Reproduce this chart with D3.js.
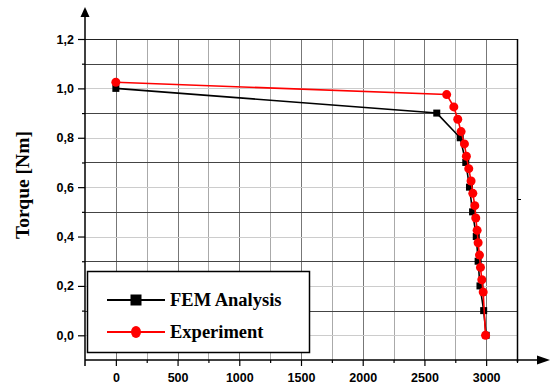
<!DOCTYPE html>
<html>
<head>
<meta charset="utf-8">
<script src="https://cdn.jsdelivr.net/npm/d3@7"></script>
<style>
  body { margin: 0; background: #fff; }
  svg { display: block; }
</style>
</head>
<body>
<div id="mainDiv"></div>
<script>
'use strict';

// speed [rpm] vs torque [Nm]
var femSpeed  = [0, 2600, 2790, 2835, 2865, 2890, 2920, 2935, 2950, 2980, 3000];
var femTorque = [1.0, 0.9, 0.8, 0.7, 0.6, 0.5, 0.4, 0.3, 0.2, 0.1, 0.0];

var expSpeed  = [0, 2680, 2738, 2770, 2797, 2824, 2840, 2859, 2878, 2892, 2908, 2916, 2927, 2935, 2946, 2954, 2965, 2976, 2995];
var expTorque = [1.025, 0.975, 0.925, 0.875, 0.825, 0.775, 0.725, 0.675, 0.625, 0.575, 0.525, 0.475, 0.425, 0.375, 0.325, 0.275, 0.225, 0.175, 0.0];

var xTicks = [0, 500, 1000, 1500, 2000, 2500, 3000];
var yTicks = [0, 0.2, 0.4, 0.6, 0.8, 1.0, 1.2];
var legendNames = ['FEM Analysis', 'Experiment'];

var W = 550, H = 385;
var pL = 85, pR = 517, pT = 39, pB = 360;

var svg = d3.select('#mainDiv').append('svg')
    .attr('width', W)
    .attr('height', H);

var x = d3.scaleLinear().domain([-250, 3250]).range([pL, pR]);
var y = d3.scaleLinear().domain([-0.1, 1.2]).range([pB, pT]);

// grid
var gx = d3.range(-250, 3251, 250).slice(1);
var gy = d3.range(-1, 13).map(function (i) { return +(i / 10).toFixed(1); }).slice(1);

svg.append('g').selectAll('line')
    .data(gx.slice(0, -1))
    .enter().append('line')
    .attr('x1', function (d) { return Math.round(x(d)) + 0.5; })
    .attr('x2', function (d) { return Math.round(x(d)) + 0.5; })
    .attr('y1', pT).attr('y2', pB)
    .attr('stroke', function (d) { return d % 500 === 0 ? '#777' : '#aaa'; })
    .attr('stroke-width', 1);

svg.append('g').selectAll('line')
    .data(gy)
    .enter().append('line')
    .attr('x1', pL).attr('x2', pR)
    .attr('y1', function (d) { return Math.round(y(d)) + 0.5; })
    .attr('y2', function (d) { return Math.round(y(d)) + 0.5; })
    .attr('stroke', function (d) {
        if (d === 1.2) return '#222';
        return Math.round(d * 10) % 2 === 1 ? '#444' : '#ccc';
    })
    .attr('stroke-width', 1);

// right frame
svg.append('line')
    .attr('x1', pR + 0.5).attr('x2', pR + 0.5)
    .attr('y1', pT).attr('y2', pB + 2)
    .attr('stroke', '#000').attr('stroke-width', 1.5);
svg.append('line')
    .attr('x1', pR).attr('x2', pR + 4)
    .attr('y1', 199.5).attr('y2', 199.5)
    .attr('stroke', '#000').attr('stroke-width', 1);

// axes
var xAxis = d3.axisBottom(x).tickValues(xTicks).tickSize(6).tickSizeOuter(0)
    .tickFormat(d3.format('d'));
var xMinor = d3.axisBottom(x).tickValues(d3.range(250, 3251, 500)).tickSize(3)
    .tickSizeOuter(0).tickFormat('');
var yAxis = d3.axisLeft(y).tickValues(yTicks).tickSize(7).tickSizeOuter(0)
    .tickFormat(function (d) { return d3.format('.1f')(d).replace('.', ','); });
var yMinor = d3.axisLeft(y).tickValues(d3.range(1, 12, 2).map(function (i) { return i / 10; }))
    .tickSize(3).tickSizeOuter(0).tickFormat('');

function styleAxis(g) {
    g.select('.domain').remove();
    g.selectAll('line').attr('stroke', '#000').attr('stroke-width', 1.2);
    g.selectAll('text')
        .attr('font-family', 'Liberation Sans, Arial, sans-serif')
        .attr('font-weight', 'bold')
        .attr('font-size', '12.5px')
        .attr('fill', '#000');
}

svg.append('g').attr('transform', 'translate(0,' + pB + ')').call(xAxis).call(styleAxis)
    .selectAll('text').attr('dy', '1.0em');
svg.append('g').attr('transform', 'translate(0,' + pB + ')').call(xMinor).call(styleAxis);
svg.append('g').attr('transform', 'translate(' + pL + ',0)').call(yAxis).call(styleAxis)
    .selectAll('text').attr('x', -11);
svg.append('g').attr('transform', 'translate(' + pL + ',0)').call(yMinor).call(styleAxis);

// axis lines with arrows
svg.append('line')
    .attr('x1', pL).attr('x2', 540)
    .attr('y1', pB).attr('y2', pB)
    .attr('stroke', '#000').attr('stroke-width', 1.5);
svg.append('path')
    .attr('d', 'M550,' + pB + ' L537,' + (pB - 4.5) + ' L537,' + (pB + 4.5) + 'Z')
    .attr('fill', '#000');
svg.append('line')
    .attr('x1', pL).attr('x2', pL)
    .attr('y1', pB + 6).attr('y2', 15)
    .attr('stroke', '#000').attr('stroke-width', 1.5);
svg.append('path')
    .attr('d', 'M' + pL + ',7 L' + (pL - 4.5) + ',17 L' + (pL + 4.5) + ',17Z')
    .attr('fill', '#000');

// y title
svg.append('text')
    .attr('transform', 'translate(29,185) rotate(-90)')
    .attr('text-anchor', 'middle')
    .attr('font-family', 'Liberation Serif, Times New Roman, serif')
    .attr('font-weight', 'bold')
    .attr('font-size', '19.5px')
    .text('Torque [Nm]');

// series
var fem = femSpeed.map(function (s, i) { return [s, femTorque[i]]; });
var exp = expSpeed.map(function (s, i) { return [s, expTorque[i]]; });

var line = d3.line()
    .x(function (d) { return x(d[0]); })
    .y(function (d) { return y(d[1]); });

svg.append('path').datum(fem)
    .attr('d', line).attr('fill', 'none')
    .attr('stroke', '#000').attr('stroke-width', 1.6);
svg.append('g').selectAll('rect')
    .data(fem)
    .enter().append('rect')
    .attr('x', function (d) { return x(d[0]) - 3.5; })
    .attr('y', function (d) { return y(d[1]) - 3.5; })
    .attr('width', 7).attr('height', 7)
    .attr('fill', '#000');

svg.append('path').datum(exp)
    .attr('d', line).attr('fill', 'none')
    .attr('stroke', '#f00').attr('stroke-width', 1.6);
svg.append('g').selectAll('circle')
    .data(exp)
    .enter().append('circle')
    .attr('cx', function (d) { return x(d[0]); })
    .attr('cy', function (d) { return y(d[1]); })
    .attr('r', 4.5)
    .attr('fill', '#f00');

// legend
var lg = svg.append('g');
lg.append('rect')
    .attr('x', 87.5).attr('y', 271.5)
    .attr('width', 222).attr('height', 81)
    .attr('fill', '#fff').attr('stroke', '#000').attr('stroke-width', 1.5);

var legendY = [300, 332];
var legendColor = ['#000', '#f00'];
legendNames.forEach(function (name, i) {
    var yy = legendY[i];
    lg.append('line')
        .attr('x1', 107).attr('x2', 165)
        .attr('y1', yy).attr('y2', yy)
        .attr('stroke', legendColor[i]).attr('stroke-width', 1.8);
    if (i === 0) {
        lg.append('rect')
            .attr('x', 130.5).attr('y', yy - 5.5)
            .attr('width', 11).attr('height', 11)
            .attr('fill', '#000');
    } else {
        lg.append('ellipse')
            .attr('cx', 136).attr('cy', yy)
            .attr('rx', 5).attr('ry', 6)
            .attr('fill', '#f00');
    }
    lg.append('text')
        .attr('x', 170).attr('y', yy + 6)
        .attr('font-family', 'Liberation Serif, Times New Roman, serif')
        .attr('font-weight', 'bold')
        .attr('font-size', '18.5px')
        .text(name);
});
</script>
</body>
</html>
